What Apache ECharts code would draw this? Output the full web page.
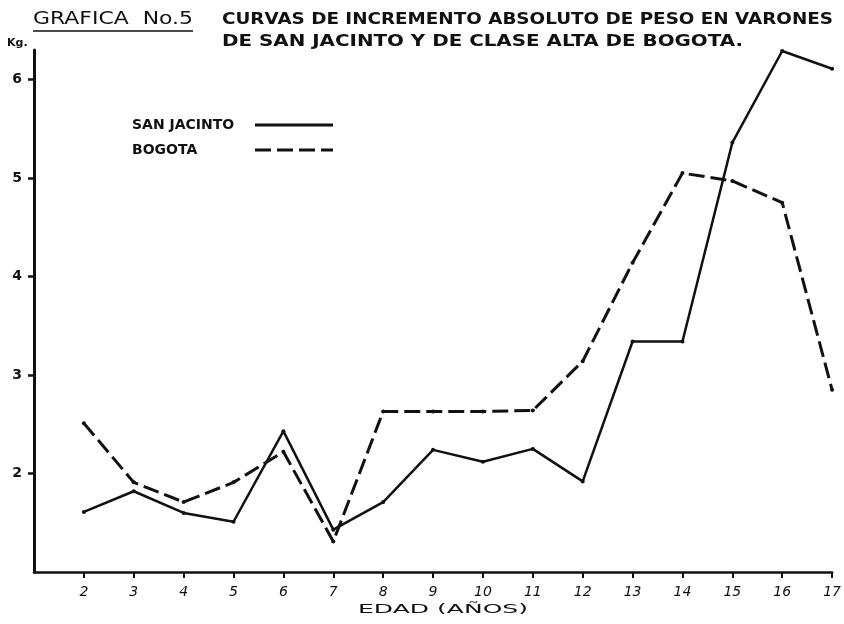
<!DOCTYPE html>
<html>
<head>
<meta charset="utf-8">
<script src="https://cdn.jsdelivr.net/npm/echarts@6/dist/echarts.min.js"></script>
<style>
  html, body { margin: 0; padding: 0; background: #fff; }
  #chart { width: 844px; height: 624px; }
</style>
</head>
<body>
<div id="chart"></div>
<script>
// ages (years) and absolute weight increments (kg)
const ages = [2, 3, 4, 5, 6, 7, 8, 9, 10, 11, 12, 13, 14, 15, 16, 17];
const sanJacinto = [1.61, 1.82, 1.60, 1.51, 2.43, 1.43, 1.71, 2.24, 2.12, 2.25, 1.92, 3.34, 3.34, 5.36, 6.29, 6.11];
const bogota = [2.51, 1.91, 1.71, 1.91, 2.22, 1.31, 2.63, 2.63, 2.63, 2.64, 3.14, 4.14, 5.05, 4.97, 4.75, 2.85];
const yTicks = [2, 3, 4, 5, 6];

const FONT = "'DejaVu Sans', sans-serif";
const INK = '#111';

// stretch a line of lettering to the width it takes in the plate
const measure = document.createElement('canvas').getContext('2d');
const stretch = (text, font, width) => {
  measure.font = font;
  return width / measure.measureText(text).width;
};

const label = (text, x, y, font, width) => ({
  type: 'text',
  x: x,
  y: y,
  scaleX: width ? stretch(text, font, width) : 1,
  style: {
    text: text,
    font: font,
    fill: INK,
    textAlign: 'left',
    textVerticalAlign: 'middle'
  }
});

const chart = echarts.init(document.getElementById('chart'));

const option = {
  backgroundColor: '#fff',
  animation: false,
  grid: { left: 34, right: 11, top: 50, bottom: 52 },
  legend: {
    orient: 'vertical',
    left: 132,
    top: 113,
    padding: [5, 0, 0, 0],
    align: 'right',
    itemWidth: 78,
    itemHeight: 14,
    itemGap: 11,
    itemStyle: { opacity: 0 },
    lineStyle: { width: 3 },
    formatter: '{t|{name}}',
    textStyle: {
      color: INK,
      rich: {
        t: {
          fontFamily: FONT,
          fontSize: 14,
          fontWeight: 'bold',
          color: INK,
          width: 118,
          align: 'left'
        }
      }
    },
    data: ['SAN JACINTO', 'BOGOTA']
  },
  xAxis: {
    type: 'value',
    min: 1,
    max: 17,
    splitLine: { show: false },
    axisLine: { lineStyle: { color: INK, width: 2.5 } },
    axisTick: {
      customValues: ages,
      length: 6,
      lineStyle: { color: INK, width: 2 }
    },
    axisLabel: {
      customValues: ages,
      margin: 13,
      fontFamily: FONT,
      fontStyle: 'italic',
      fontSize: 14,
      color: INK
    }
  },
  yAxis: {
    type: 'value',
    min: 1,
    max: 6.3,
    splitLine: { show: false },
    axisLine: { show: true, lineStyle: { color: INK, width: 3 } },
    axisTick: {
      show: true,
      customValues: yTicks,
      length: 6,
      lineStyle: { color: INK, width: 2.5 }
    },
    axisLabel: {
      customValues: yTicks,
      margin: 12,
      fontFamily: FONT,
      fontWeight: 'bold',
      fontSize: 14,
      color: INK
    }
  },
  series: [
    {
      name: 'SAN JACINTO',
      type: 'line',
      data: ages.map((a, i) => [a, sanJacinto[i]]),
      symbol: 'circle',
      symbolSize: 4,
      itemStyle: { color: INK },
      lineStyle: { color: INK, width: 2.5 }
    },
    {
      name: 'BOGOTA',
      type: 'line',
      data: ages.map((a, i) => [a, bogota[i]]),
      symbol: 'circle',
      symbolSize: 4,
      itemStyle: { color: INK },
      lineStyle: { color: INK, width: 3, type: [16, 6] }
    }
  ],
  graphic: [
    label('GRAFICA  No.5', 33, 20, `17px ${FONT}`, 160),
    {
      type: 'line',
      shape: { x1: 33, y1: 31, x2: 193, y2: 31 },
      style: { stroke: INK, lineWidth: 1.5 }
    },
    label('CURVAS DE INCREMENTO ABSOLUTO DE PESO EN VARONES', 222, 20, `bold 15px ${FONT}`, 611),
    label('DE SAN JACINTO Y DE CLASE ALTA DE BOGOTA.', 222, 42, `bold 15px ${FONT}`, 521),
    {
      type: 'text',
      x: 7,
      y: 43,
      style: { text: 'Kg.', font: `bold 11px ${FONT}`, fill: INK, textVerticalAlign: 'middle' }
    },
    label('EDAD (AÑOS)', 358, 610, `12px ${FONT}`, 170)
  ]
};

chart.setOption(option);
</script>
</body>
</html>
